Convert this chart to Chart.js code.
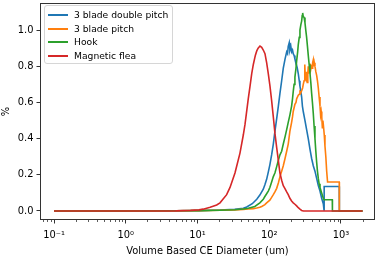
<!DOCTYPE html>
<html>
<head>
<meta charset="utf-8">
<script src="https://cdn.jsdelivr.net/npm/chart.js@4.4.1/dist/chart.umd.min.js"></script>
<style>
  html, body { margin: 0; padding: 0; background: #fff; }
  #wrap { position: relative; width: 381px; height: 259px; }
  #legend {
    position: absolute; left: 44px; top: 5px; width: 127px; height: 57px;
    border: 1px solid #d6d6d6; border-radius: 3px; background: rgba(255,255,255,0.8);
    font-family: "DejaVu Sans", sans-serif; font-size: 9.2px; color: #000;
  }
  #legend .row { position: absolute; left: 0; height: 12px; line-height: 12px; white-space: nowrap; }
  #legend .swatch { position: absolute; left: 3px; top: 5px; width: 20px; height: 2px; }
  #legend .label { position: absolute; left: 29px; top: 0; }
</style>
</head>
<body>
<div id="wrap">
  <canvas id="chart" width="381" height="259"></canvas>
  <div id="legend"></div>
</div>
<script>
/* Particle size distributions for four impellers, log-x line chart. */
const seriesNames = ["3 blade double pitch", "3 blade pitch", "Hook", "Magnetic flea"];
const seriesColors = ["#1f77b4", "#ff7f0e", "#2ca02c", "#d62728"];

// diameter (um) / percent
const doublePitchX = [0.1, 1, 5, 10.5, 20.6, 33, 43.5, 48.5, 58, 67, 74, 82.6, 87, 92, 97, 102, 108, 114, 120, 127,
  134, 141, 149, 157, 166, 175, 180, 184, 190, 194, 200, 205, 211, 216, 222, 228, 236, 246, 254, 262, 268, 276,
  283, 290, 298, 315, 332, 350, 370, 390, 411, 434, 458, 483, 510, 538, 567, 580, 583, 946, 950, 2000];
const doublePitchY = [0, 0, 0.001, 0.002, 0.005, 0.009, 0.015, 0.022, 0.04, 0.065, 0.088, 0.12, 0.145, 0.175, 0.215, 0.255, 0.31, 0.37, 0.44, 0.51,
  0.58, 0.65, 0.72, 0.79, 0.84, 0.88, 0.87, 0.91, 0.93, 0.89, 0.91, 0.88, 0.89, 0.87, 0.86, 0.84, 0.82, 0.79, 0.76, 0.72, 0.69, 0.66,
  0.63, 0.58, 0.55, 0.50, 0.45, 0.40, 0.34, 0.29, 0.25, 0.22, 0.18, 0.14, 0.11, 0.07, 0.04, 0.005, 0.135, 0.135, 0, 0];

const pitchX = [0.1, 1, 5, 10.5, 20.6, 33, 43.5, 51, 60, 67, 74, 78.5, 87, 92, 102, 108, 114, 120, 127, 134,
  141, 149, 157, 166, 175, 184, 194, 205, 211, 216, 228, 236, 241, 254, 262, 268, 276, 283, 292, 298,
  306, 313, 318, 325, 332, 338, 345, 350, 356, 362, 370, 378, 386, 395, 403, 411, 418, 425, 434, 446,
  458, 470, 483, 496, 510, 520, 530, 540, 550, 560, 570, 585, 598, 615, 632, 650, 946, 950, 2000];
const pitchY = [0, 0, 0.001, 0.002, 0.004, 0.006, 0.009, 0.011, 0.013, 0.016, 0.02, 0.025, 0.035, 0.045, 0.06, 0.075, 0.09, 0.105, 0.125, 0.155,
  0.19, 0.22, 0.25, 0.29, 0.33, 0.37, 0.44, 0.49, 0.52, 0.55, 0.59, 0.60, 0.62, 0.64, 0.645, 0.66, 0.655, 0.665, 0.68, 0.70,
  0.72, 0.81, 0.74, 0.73, 0.77, 0.71, 0.76, 0.80, 0.76, 0.78, 0.815, 0.78, 0.80, 0.79, 0.82, 0.835, 0.80, 0.82, 0.80, 0.77,
  0.75, 0.72, 0.68, 0.63, 0.58, 0.53, 0.55, 0.52, 0.46, 0.50, 0.47, 0.42, 0.36, 0.30, 0.22, 0.16, 0.16, 0, 0];

const hookX = [0.1, 1, 5, 10.5, 20.6, 33, 43.5, 51, 63, 74, 82.6, 87, 92, 97, 102, 108, 114, 120, 127, 134,
  141, 149, 157, 166, 175, 184, 194, 205, 211, 216, 222, 228, 236, 241, 249, 254, 262, 268, 276, 283,
  288, 292.6, 298, 306, 315, 323, 332, 341, 350, 360, 370, 380, 390, 400, 411, 422, 434, 446, 458, 470,
  483, 496, 510, 538, 567, 580, 757, 760, 2000];
const hookY = [0, 0, 0.001, 0.002, 0.004, 0.007, 0.011, 0.015, 0.025, 0.045, 0.065, 0.08, 0.095, 0.11, 0.13, 0.16, 0.19, 0.21, 0.245, 0.28,
  0.31, 0.33, 0.37, 0.41, 0.45, 0.49, 0.53, 0.58, 0.62, 0.66, 0.70, 0.74, 0.79, 0.83, 0.88, 0.92, 0.96, 1.0, 1.03, 1.05,
  1.08, 1.095, 1.075, 1.07, 1.04, 1.0, 0.96, 0.91, 0.86, 0.81, 0.76, 0.71, 0.65, 0.60, 0.54, 0.47, 0.40, 0.33, 0.27, 0.22,
  0.18, 0.15, 0.13, 0.10, 0.07, 0.062, 0.062, 0, 0];

const fleaX = [0.1, 1, 5, 8, 10.5, 12, 15, 18.5, 20.6, 25.5, 28.4, 33.3, 39.1, 43.5, 46, 51, 54, 57, 60, 64,
  67, 70, 74.3, 78.5, 82.6, 87.2, 92, 97, 102.4, 108, 114, 120, 127, 134, 141, 149, 157, 165, 175, 184,
  194, 205, 216, 228, 241, 254, 268, 283, 300, 2000];
const fleaY = [0, 0, 0.0005, 0.003, 0.006, 0.01, 0.02, 0.033, 0.045, 0.09, 0.13, 0.21, 0.32, 0.42, 0.48, 0.62, 0.69, 0.76, 0.81, 0.86,
  0.885, 0.90, 0.912, 0.905, 0.89, 0.87, 0.82, 0.76, 0.69, 0.61, 0.52, 0.43, 0.35, 0.28, 0.21, 0.17, 0.14, 0.125, 0.105, 0.09,
  0.07, 0.055, 0.045, 0.037, 0.028, 0.018, 0.01, 0.003, 0, 0];

const xTickValues = [0.1, 1, 10, 100, 1000];
const xTickLabels = ["10\u207B\u00B9", "10\u2070", "10\u00B9", "10\u00B2", "10\u00B3"];
const yTickValues = [0, 0.2, 0.4, 0.6, 0.8, 1.0];
const yTickLabels = ["0.0", "0.2", "0.4", "0.6", "0.8", "1.0"];

const xs = [doublePitchX, pitchX, hookX, fleaX];
const ys = [doublePitchY, pitchY, hookY, fleaY];

// minor log ticks 2..9 per decade
const minorTicks = [];
for (let d = 0.01; d <= 1000; d *= 10) {
  for (let k = 2; k <= 9; k++) minorTicks.push(+(k * d).toPrecision(3));
}

const FONT = { family: "DejaVu Sans", size: 9.9 };

// frame round the plot + minor ticks on the x axis
const framePlugin = {
  id: "frame",
  afterDraw(chart) {
    const { ctx, chartArea: a } = chart;
    const x = chart.scales.x;
    ctx.save();
    ctx.strokeStyle = "#333";
    ctx.lineWidth = 1;
    ctx.strokeRect(a.left + 0.5, a.top + 0.5, a.right - a.left - 1, a.bottom - a.top - 1);
    ctx.beginPath();
    ctx.lineWidth = 0.8;
    minorTicks.forEach(function (v) {
      const px = Math.round(x.getPixelForValue(v)) + 0.5;
      if (px < a.left || px > a.right) return;
      ctx.moveTo(px, a.bottom);
      ctx.lineTo(px, a.bottom + 2);
    });
    ctx.stroke();
    ctx.restore();
  },
};

document.addEventListener("DOMContentLoaded", function () {
  const datasets = seriesNames.map(function (name, i) {
    return {
      label: name,
      data: xs[i].map((x, j) => ({ x: x, y: ys[i][j] })),
      borderColor: seriesColors[i],
      backgroundColor: seriesColors[i],
      borderWidth: 1.6,
      pointRadius: 0,
      tension: 0,
      fill: false,
      order: seriesNames.length - 1 - i, // later series on top, like matplotlib
    };
  });

  new Chart(document.getElementById("chart"), {
    type: "line",
    data: { datasets: datasets },
    plugins: [framePlugin],
    options: {
      responsive: false,
      animation: false,
      devicePixelRatio: 1,
      layout: { padding: { top: 3, right: 6, left: 0, bottom: 0 } },
      plugins: { legend: { display: false }, tooltip: { enabled: false } },
      scales: {
        x: {
          type: "logarithmic",
          min: 0.0638,
          max: 2980,
          afterBuildTicks: (s) => { s.ticks = xTickValues.map((v) => ({ value: v })); },
          afterFit: (s) => { s.height = 39; s.paddingLeft = 0; s.paddingRight = 0; },
          ticks: {
            callback: (v, i) => xTickLabels[i],
            autoSkip: false, maxRotation: 0, padding: 5.5,
            color: "#000", font: FONT,
          },
          grid: { drawOnChartArea: false, drawTicks: true, tickLength: 3.5, tickColor: "#333" },
          border: { display: false },
          title: { display: true, text: "Volume Based CE Diameter (um)", color: "#000", font: FONT, padding: { top: 0, bottom: 2 } },
        },
        y: {
          min: -0.05,
          max: 1.15,
          afterBuildTicks: (s) => { s.ticks = yTickValues.map((v) => ({ value: v })); },
          afterFit: (s) => { s.width = 40; s.paddingTop = 0; s.paddingBottom = 0; },
          ticks: {
            callback: (v, i) => yTickLabels[i],
            padding: 3, color: "#000", font: FONT,
          },
          grid: { drawOnChartArea: false, drawTicks: true, tickLength: 3.5, tickColor: "#333" },
          border: { display: false },
          title: { display: true, text: "%", color: "#000", font: FONT, padding: { top: 0, bottom: 0 } },
        },
      },
    },
  });

  // legend box in the upper left of the plot
  const legend = document.getElementById("legend");
  const rowTops = [3, 16.5, 30, 43.5];
  seriesNames.forEach(function (name, i) {
    const row = document.createElement("div");
    row.className = "row";
    row.style.top = rowTops[i] + "px";
    row.innerHTML = '<span class="swatch" style="background:' + seriesColors[i] + '"></span>' +
      '<span class="label">' + name + "</span>";
    legend.appendChild(row);
  });
});
</script>
</body>
</html>
